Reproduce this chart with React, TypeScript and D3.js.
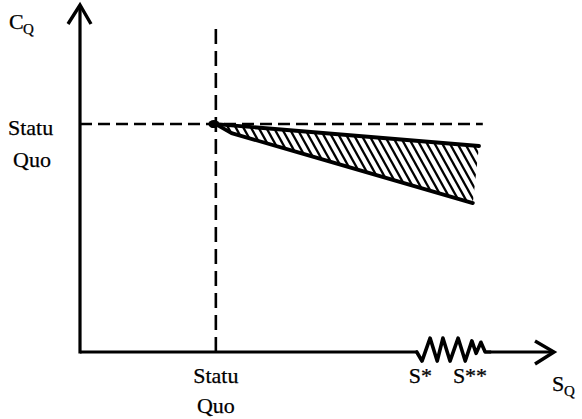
import React from "react";
import * as d3 from "d3";

// ---- data (conceptual units, 0..100 on both axes) ----
const statusQuoX = 28.6;
const statusQuoY = 65.5;
const upperX = [28.6, 84.0];
const upperY = [65.5, 59.2];
const lowerX = [28.6, 31.9, 46.3, 82.7];
const lowerY = [65.5, 62.9, 57.2, 42.8];
const zigX = [70.9, 72.0, 73.7, 75.2, 76.4, 77.9, 79.6, 81.1, 82.5, 83.4, 84.4, 85.3, 86.3];
const zigY = [0, -2.6, 4.0, -2.6, 4.0, -2.6, 4.0, -2.6, 3.2, -0.4, 2.8, 0, 0];
const xTickLabels = ["S*", "S**"];
const xTickValues = [69.2, 78.5];
const sqTopY = 94.5;
const sqRightX = 84.8;

const W = 582;
const H = 419;
const FONT = "'Liberation Serif', 'Times New Roman', serif";

export default function App() {
  const x = d3.scaleLinear().domain([0, 100]).range([80, 555]);
  const y = d3.scaleLinear().domain([0, 100]).range([352, 4]);

  const line = d3
    .line<[number, number]>()
    .x((d) => x(d[0]))
    .y((d) => y(d[1]));

  const upperPts: [number, number][] = upperX.map((v, i) => [v, upperY[i]]);
  const lowerPts: [number, number][] = lowerX.map((v, i) => [v, lowerY[i]]);
  const zigPts: [number, number][] = zigX.map((v, i) => [v, zigY[i]]);

  const areaPoly = [...upperPts, ...lowerPts.slice().reverse()];
  const areaPath = line(areaPoly) + "Z";

  // hatch lines (style)
  const hatch: JSX.Element[] = [];
  const top = 110;
  const bottom = 215;
  const slope = 1.8;
  const dx = (bottom - top) / slope;
  for (let k = 0; k < 60; k++) {
    const x0 = 150 + k * 7.6;
    hatch.push(
      <line key={k} x1={x0} y1={top} x2={x0 + dx} y2={bottom} stroke="#000" strokeWidth={2.3} />
    );
  }

  const ax0 = x(0);
  const ay0 = y(0);
  const tipX = x(100);
  const tipY = y(100);

  return (
    <svg
      width={W}
      height={H}
      style={{ position: "fixed", left: 0, top: 0, background: "#fff" }}
    >
      <defs>
        <clipPath id="areaClip">
          <path d={areaPath} />
        </clipPath>
      </defs>
      <rect width={W} height={H} fill="#fff" />

      {/* hatched area */}
      <g clipPath="url(#areaClip)">{hatch}</g>

      {/* dashed status quo lines */}
      <line
        x1={x(statusQuoX)}
        x2={x(statusQuoX)}
        y1={y(0)}
        y2={y(sqTopY)}
        stroke="#000"
        strokeWidth={2.6}
        strokeDasharray="15 7"
      />
      <line
        x1={x(0)}
        x2={x(sqRightX)}
        y1={y(statusQuoY)}
        y2={y(statusQuoY)}
        stroke="#000"
        strokeWidth={2.6}
        strokeDasharray="12 6"
      />

      {/* upper and lower boundaries */}
      <path d={line(upperPts) || ""} fill="none" stroke="#000" strokeWidth={3.8} strokeLinecap="round" />
      <path d={line(lowerPts) || ""} fill="none" stroke="#000" strokeWidth={3.8} strokeLinecap="round" strokeLinejoin="round" />
      <ellipse cx={x(statusQuoX) - 2} cy={y(statusQuoY)} rx={5.5} ry={4} fill="#000" />

      {/* y axis */}
      <line x1={ax0} x2={ax0} y1={ay0 + 1.5} y2={tipY + 2} stroke="#000" strokeWidth={3.2} />
      <polyline
        points={`${ax0 - 12},${tipY + 20} ${ax0},${tipY + 1} ${ax0 + 11},${tipY + 20}`}
        fill="none"
        stroke="#000"
        strokeWidth={3.4}
        strokeLinejoin="miter"
      />

      {/* x axis with zigzag break */}
      <line x1={ax0} x2={x(zigX[0])} y1={ay0} y2={ay0} stroke="#000" strokeWidth={3.2} />
      <path d={line(zigPts) || ""} fill="none" stroke="#000" strokeWidth={3.6} strokeLinejoin="round" strokeLinecap="round" />
      <line x1={x(zigX[zigX.length - 1])} x2={tipX - 2} y1={ay0} y2={ay0} stroke="#000" strokeWidth={3.2} />
      <polyline
        points={`${tipX - 20},${ay0 - 11} ${tipX - 1},${ay0} ${tipX - 20},${ay0 + 12}`}
        fill="none"
        stroke="#000"
        strokeWidth={3.4}
      />

      {/* labels */}
      <g fontFamily={FONT} fill="#000" stroke="#000" strokeWidth={0.25}>
        <text x={9} y={29} fontSize={22}>C</text>
        <text x={23} y={34} fontSize={15}>Q</text>

        <text x={8} y={y(statusQuoY) + 11} fontSize={22}>Statu</text>
        <text x={13} y={y(statusQuoY) + 43} fontSize={22}>Quo</text>

        <text x={x(statusQuoX)} y={383} fontSize={22} textAnchor="middle">Statu</text>
        <text x={x(statusQuoX)} y={413} fontSize={22} textAnchor="middle">Quo</text>

        {xTickLabels.map((t, i) => (
          <text key={t} x={x(xTickValues[i])} y={383} fontSize={22}>{t}</text>
        ))}

        <text x={552} y={391} fontSize={22}>S</text>
        <text x={564} y={396} fontSize={15}>Q</text>
      </g>
    </svg>
  );
}
